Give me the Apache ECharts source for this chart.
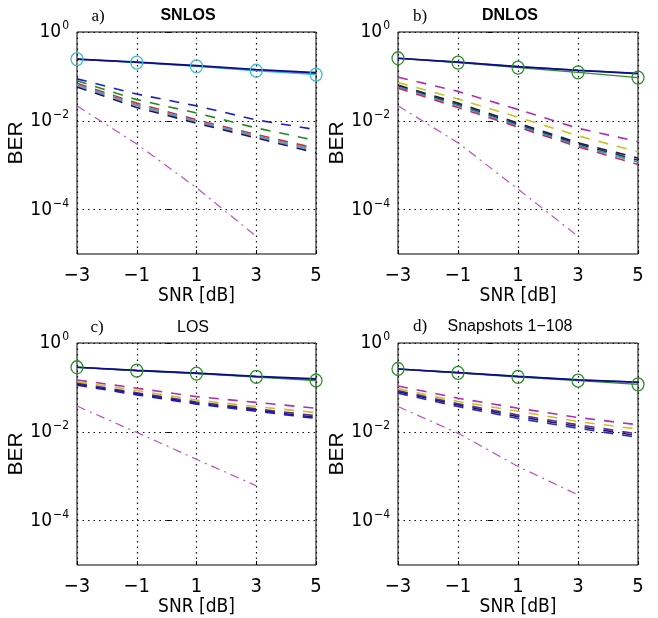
<!DOCTYPE html>
<html><head><meta charset="utf-8">
<script src="https://cdn.jsdelivr.net/npm/echarts@6/dist/echarts.min.js"></script>
<style>html,body{margin:0;padding:0;background:#fff}#c{width:658px;height:618px}</style>
</head><body><div id="c"></div><script>
// X values and tick values
const snr = [-3, -1, 1, 3, 5];
const snrDashDot = [-3, -1, 1, 3];
const yTicks = [1e-4, 1e-2, 1];
const panelTitles = ['SNLOS', 'DNLOS', 'LOS', 'Snapshots 1\u2212108'];
const panelLetters = ['a)', 'b)', 'c)', 'd)'];

// Panel a: SNLOS
const aSolidNavy = [0.245, 0.21, 0.175, 0.143, 0.122];
const aSolidBlue = [0.243, 0.207, 0.171, 0.139, 0.117];
const aCircle = [0.245, 0.205, 0.168, 0.134, 0.110];
const aDash1 = [0.088, 0.040, 0.0217, 0.0105, 0.0063];
const aDash2 = [0.080, 0.030, 0.0150, 0.0069, 0.0036];
const aDash3 = [0.070, 0.025, 0.0105, 0.0049, 0.0024];
const aDash4 = [0.066, 0.023, 0.0098, 0.0046, 0.0022];
const aDash5 = [0.063, 0.022, 0.0094, 0.0044, 0.0021];
const aDash6 = [0.058, 0.020, 0.0088, 0.0041, 0.0019];
const aDashDot = [0.0217, 0.0030, 0.00031, 0.000025];

// Panel b: DNLOS
const bSolidNavy = [0.256, 0.21, 0.166, 0.136, 0.116];
const bSolidBlue = [0.254, 0.209, 0.166, 0.138, 0.118];
const bCircle = [0.256, 0.205, 0.158, 0.123, 0.094];
const bDash1 = [0.096, 0.046, 0.018, 0.0068, 0.0034];
const bDash2 = [0.073, 0.031, 0.012, 0.0046, 0.0020];
const bDash3 = [0.064, 0.025, 0.0089, 0.0032, 0.00145];
const bDash4 = [0.061, 0.023, 0.0083, 0.0030, 0.0013];
const bDash5 = [0.058, 0.022, 0.0078, 0.0028, 0.00118];
const bDash6 = [0.054, 0.020, 0.0072, 0.0026, 0.00104];
const bDashDot = [0.0217, 0.0032, 0.00029, 0.000025];

// Panel c: LOS
const cSolidNavy = [0.284, 0.242, 0.21, 0.178, 0.155];
const cSolidBlue = [0.282, 0.240, 0.208, 0.175, 0.150];
const cCircle = [0.284, 0.238, 0.205, 0.172, 0.143];
const cDash1 = [0.147, 0.096, 0.062, 0.046, 0.034];
const cDash2 = [0.135, 0.085, 0.052, 0.037, 0.027];
const cDash3 = [0.124, 0.076, 0.047, 0.033, 0.023];
const cDash4 = [0.118, 0.072, 0.044, 0.031, 0.021];
const cDash5 = [0.112, 0.068, 0.042, 0.029, 0.020];
const cDashDot = [0.038, 0.0097, 0.0024, 0.00061];

// Panel d: Snapshots 1-108
const dSolidNavy = [0.26, 0.215, 0.178, 0.148, 0.130];
const dSolidBlue = [0.258, 0.214, 0.177, 0.148, 0.133];
const dCircle = [0.26, 0.213, 0.172, 0.142, 0.117];
const dDash1 = [0.108, 0.057, 0.034, 0.021, 0.0144];
const dDash2 = [0.094, 0.048, 0.029, 0.017, 0.0115];
const dDash3 = [0.085, 0.043, 0.024, 0.0144, 0.0090];
const dDash4 = [0.080, 0.040, 0.022, 0.0132, 0.0082];
const dDash5 = [0.074, 0.037, 0.020, 0.0120, 0.0075];
const dDashDot = [0.037, 0.0093, 0.00166, 0.00038];

const panels = [
  {solid: [aSolidNavy, aSolidBlue], circle: aCircle, circleColor: '#3cbccc',
   dashes: [aDash1, aDash2, aDash3, aDash4, aDash5, aDash6],
   dashColors: ['#1a1ad0', '#1f8a1f', '#d02a2a', '#2aaac8', '#8a8a9a', '#14147a'], dashDot: aDashDot},
  {solid: [bSolidNavy, bSolidBlue], circle: bCircle, circleColor: '#2e8e2e',
   dashes: [bDash1, bDash2, bDash3, bDash4, bDash5, bDash6],
   dashColors: ['#b02cb0', '#c4c424', '#202020', '#20207a', '#20a090', '#d0206a'], dashDot: bDashDot},
  {solid: [cSolidNavy, cSolidBlue], circle: cCircle, circleColor: '#2e8e2e',
   dashes: [cDash1, cDash2, cDash3, cDash4, cDash5],
   dashColors: ['#b02cb0', '#c4c424', '#6a2a8a', '#1a1a6a', '#1a1ad0'], dashDot: cDashDot},
  {solid: [dSolidNavy, dSolidBlue], circle: dCircle, circleColor: '#2e8e2e',
   dashes: [dDash1, dDash2, dDash3, dDash4, dDash5],
   dashColors: ['#b02cb0', '#c4c424', '#6a2a8a', '#1a1a6a', '#2a2ac0'], dashDot: dDashDot}
];

const grids = [
  {left: 77, top: 32, width: 239, height: 222},
  {left: 398, top: 32, width: 240, height: 222},
  {left: 77, top: 343, width: 239, height: 222},
  {left: 398, top: 343, width: 240, height: 222}
];
const titlePos = [[188, 16], [510, 16], [193, 328], [510, 327]];
const letterPos = [[98, 17], [420, 17], [97, 328], [420, 327]];

const narrow = "'Liberation Sans Narrow', 'DejaVu Sans Condensed', 'Liberation Sans', Arial, sans-serif";
const sans = "'Liberation Sans', Arial, Helvetica, sans-serif";
const gridDot = {type: [1.5, 4], color: '#111', width: 1.2};

function pts(xs, vals) { return xs.map((x, i) => [x, vals[i]]); }
function minus(v) { return v < 0 ? '\u2212' + Math.abs(v) : String(v); }

const xAxes = [], yAxes = [], series = [], graphics = [];
panels.forEach((p, gi) => {
  xAxes.push({
    type: 'value', gridIndex: gi, min: -3, max: 5,
    axisLine: {show: false},
    axisTick: {show: true, inside: true, length: 4, customValues: snr, lineStyle: {color: '#000'}},
    axisLabel: {customValues: snr, formatter: v => minus(v), margin: 12,
      fontFamily: narrow, fontSize: 20, color: '#000'},
    splitLine: {show: true, lineStyle: gridDot},
    name: 'SNR [dB]', nameLocation: 'middle', nameGap: 32,
    nameTextStyle: {fontFamily: narrow, fontSize: 19, color: '#000'}
  });
  yAxes.push({
    type: 'log', logBase: 10, gridIndex: gi, min: 1e-5, max: 1,
    axisLine: {show: false},
    axisTick: {show: true, inside: true, length: 4, customValues: yTicks, lineStyle: {color: '#000'}},
    axisLabel: {customValues: yTicks, margin: 8,
      formatter: v => '{b|10}{s|' + minus(Math.round(Math.log10(v))) + '}',
      rich: {
        b: {fontFamily: narrow, fontSize: 19, color: '#000'},
        s: {fontFamily: narrow, fontSize: 12, color: '#000', padding: [0, 0, 12, 1]}
      }},
    splitLine: {show: true, lineStyle: gridDot},
    name: 'BER', nameLocation: 'middle', nameGap: 36,
    nameTextStyle: {fontFamily: sans, fontSize: 21, color: '#000'}
  });
  const common = {type: 'line', xAxisIndex: gi, yAxisIndex: gi, animation: false, silent: true};
  p.dashes.forEach((d, k) => series.push(Object.assign({}, common, {
    data: pts(snr, d), showSymbol: false, symbol: 'none',
    lineStyle: {color: p.dashColors[k], width: 1.6, type: [10, 9]}
  })));
  series.push(Object.assign({}, common, {
    data: pts(snrDashDot, p.dashDot), symbol: 'none',
    lineStyle: {color: '#c050c0', width: 1.2, type: [9, 5, 2, 5]}
  }));
  series.push(Object.assign({}, common, {
    data: pts(snr, p.circle), symbol: 'circle', symbolSize: [12, 13], clip: false,
    itemStyle: {color: 'rgba(0,0,0,0)', borderColor: p.circleColor, borderWidth: 1.3},
    lineStyle: {color: p.circleColor, width: 1.4}
  }));
  series.push(Object.assign({}, common, {
    data: pts(snr, p.solid[1]), symbol: 'none', lineStyle: {color: '#4a58d8', width: 1.4}
  }));
  series.push(Object.assign({}, common, {
    data: pts(snr, p.solid[0]), symbol: 'none', lineStyle: {color: '#0c0c88', width: 1.7}
  }));
  graphics.push({type: 'text', x: titlePos[gi][0], y: titlePos[gi][1], silent: true,
    style: {text: panelTitles[gi], fill: '#000', align: 'center', verticalAlign: 'middle',
      font: (gi < 2 ? 'bold ' : '') + '16px ' + sans}});
  graphics.push({type: 'text', x: letterPos[gi][0], y: letterPos[gi][1], silent: true,
    style: {text: panelLetters[gi], fill: '#000', align: 'center', verticalAlign: 'middle',
      font: "17px 'Liberation Serif', 'DejaVu Serif', serif"}});
});

const chart = echarts.init(document.getElementById('c'), null, {renderer: 'canvas'});
chart.setOption({
  backgroundColor: '#fff',
  animation: false,
  grid: grids.map(g => Object.assign({show: true, borderColor: '#000', borderWidth: 1, backgroundColor: 'transparent'}, g)),
  xAxis: xAxes,
  yAxis: yAxes,
  series: series,
  graphic: graphics
});
</script></body></html>
